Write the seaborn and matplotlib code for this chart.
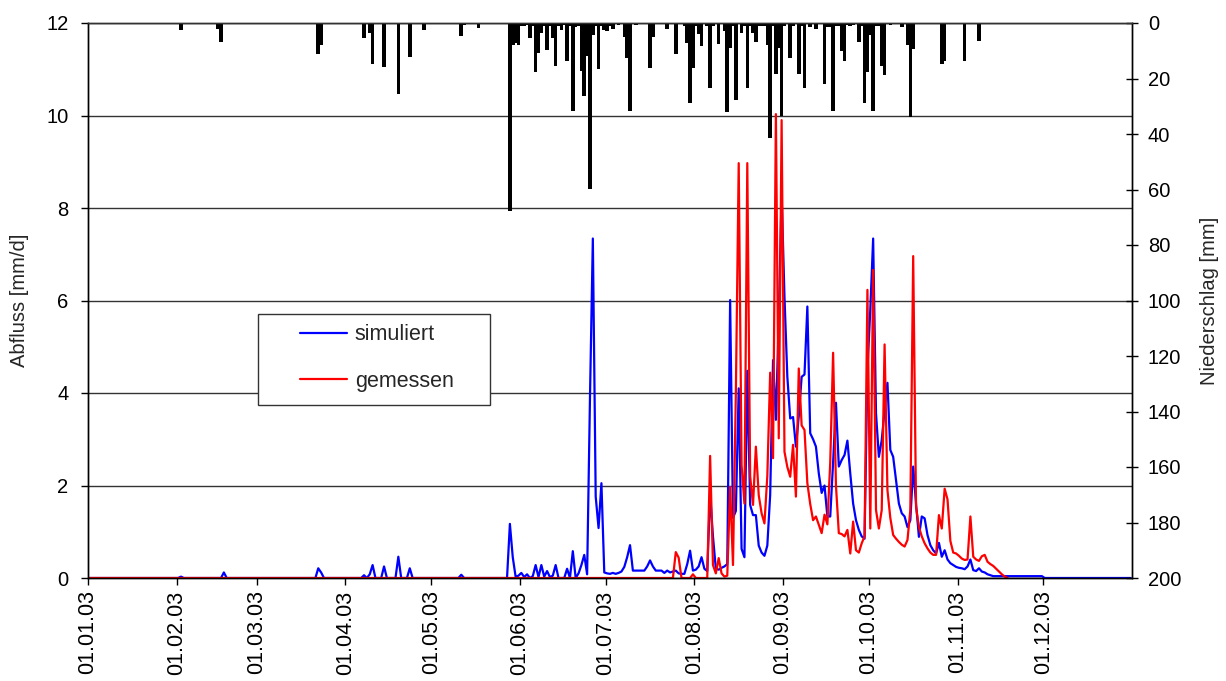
import numpy as np
import pandas as pd
import matplotlib
matplotlib.use("Agg")
import matplotlib.pyplot as plt
from matplotlib.patches import Rectangle
import seaborn as sns

# ---------------- data ----------------
month_labels = ["01.01.03", "01.02.03", "01.03.03", "01.04.03", "01.05.03", "01.06.03",
                "01.07.03", "01.08.03", "01.09.03", "01.10.03", "01.11.03", "01.12.03"]
month_start_day = [0, 31, 59, 90, 120, 151, 181, 212, 243, 273, 304, 334]
n_days = 365

# simulated runoff [mm/d] (day of year index, value); all other days 0
sim_day_early = [32, 47, 80, 81, 96, 98, 99, 103, 108, 112, 130]
sim_val_early = [0.03, 0.12, 0.21, 0.12, 0.06, 0.08, 0.28, 0.25, 0.46, 0.21, 0.07]
sim_first_day = 147
sim_val_main = [
    1.17, 0.45, 0.03, 0.05, 0.11, 0.02, 0.08, 0.00, 0.04, 0.28, 0.02, 0.28, 0.03, 0.15, 0.02, 0.05,
    0.28, 0.00, 0.00, 0.00, 0.20, 0.00, 0.58, 0.00, 0.10, 0.28, 0.50, 0.08, 3.90, 7.34, 1.76, 1.08,
    2.05, 0.12,
    0.10, 0.09, 0.11, 0.09, 0.11, 0.14, 0.24, 0.45, 0.71, 0.16, 0.16, 0.16, 0.16, 0.16, 0.25, 0.38,
    0.25, 0.16, 0.16, 0.16, 0.11, 0.16, 0.12, 0.14, 0.16, 0.10, 0.09, 0.09, 0.30, 0.59, 0.16, 0.18,
    0.25, 0.45, 0.20, 0.15,
    1.80, 0.90, 0.20, 0.18, 0.22, 0.25, 0.30, 6.01, 1.30, 1.45, 4.10, 0.63, 0.45, 4.48, 1.58, 1.36,
    1.36, 0.70, 0.55, 0.48, 0.70, 1.80, 4.71, 3.42, 5.60, 8.30, 6.08, 4.35, 3.45, 3.48, 2.84, 3.50,
    4.35, 4.40,
    5.87, 3.13, 3.00, 2.84, 2.26, 1.84, 2.00, 1.33, 1.33, 2.50, 3.79, 2.41, 2.55, 2.66, 2.97, 2.26,
    1.61, 1.25, 1.04, 0.90, 0.85, 4.50, 5.80, 7.34, 3.56, 2.62, 2.98, 3.63, 4.22, 2.77, 2.62, 2.12,
    1.61, 1.40, 1.33, 1.10, 1.25, 2.41, 1.60, 0.89,
    1.33, 1.29, 0.93, 0.71, 0.60, 0.53, 0.76, 0.46, 0.60, 0.40, 0.32, 0.28, 0.24, 0.22, 0.21, 0.19,
    0.25, 0.40, 0.17, 0.15, 0.21, 0.14, 0.12, 0.08, 0.06,
    0.04, 0.04, 0.04, 0.04, 0.04, 0.04, 0.04, 0.04, 0.04, 0.04, 0.04, 0.04, 0.04, 0.04, 0.04, 0.04,
    0.04, 0.04,
]

# measured runoff [mm/d]; zero before meas_first_day, no data after meas_last_day
meas_first_day = 204
meas_last_day = 321
meas_val = [
    0.00, 0.56, 0.44, 0.00, 0.00, 0.00, 0.00, 0.08, 0.00, 0.00, 0.00, 0.00, 0.00,
    2.64, 0.28, 0.10, 0.43, 0.10, 0.03, 0.05, 1.97, 0.28, 4.00, 8.97, 2.44, 1.61, 8.97, 2.20, 1.58,
    2.84, 1.79, 1.40, 1.18, 2.20, 4.44, 2.59, 10.03, 3.02, 9.90, 2.73, 2.40, 2.19, 2.88, 1.76, 4.53,
    3.30, 3.20, 2.05, 1.60, 1.25, 1.33, 1.15, 0.97, 1.37, 1.16, 2.50, 4.87, 2.00, 0.97, 0.95, 0.90,
    1.04, 0.53, 1.22, 0.60, 0.55, 0.75, 0.90, 6.23, 1.07, 6.66, 1.47, 1.07, 1.47, 5.05, 1.90, 1.30,
    0.93, 0.85, 0.78, 0.72, 0.68, 0.82, 1.47, 6.96, 1.54, 1.10, 0.90, 0.75, 0.64, 0.55, 0.50, 0.50,
    1.36, 1.07, 1.93, 1.70, 0.80, 0.55, 0.53, 0.48, 0.42, 0.39, 0.40, 1.33, 0.46, 0.40, 0.37, 0.47,
    0.50, 0.35, 0.30, 0.26, 0.20, 0.14, 0.08, 0.03, 0.00,
]

# daily precipitation [mm]
rain_day = [32, 45, 46, 80, 81, 96, 98, 99, 103, 108, 112, 117, 130, 131, 136,
            147, 148, 149, 150, 151, 152, 153, 154, 155, 156, 157, 158, 159, 160, 161, 162, 163, 164,
            165, 166, 167, 168, 169, 170, 171, 172, 173, 174, 175, 176, 177, 178, 179, 180,
            181, 182, 183, 185, 187, 188, 189, 191, 196, 197, 202, 205, 208, 209, 210, 211, 212, 213,
            214, 216, 217, 218, 220, 222, 223, 224, 225, 226, 228, 229, 230, 231, 232, 233, 234, 235,
            236, 237, 238, 239, 240, 241, 242, 243, 245, 246, 248, 249, 250, 252, 254, 257, 258, 259,
            260, 261, 262, 263, 264, 265, 266, 267, 269, 270, 271, 272, 273, 274, 275, 276, 277, 278,
            280, 284, 286, 287, 288, 298, 299, 306, 311]
rain_mm = [2.5, 2.0, 6.7, 11.0, 8.0, 5.5, 3.7, 14.8, 15.7, 25.7, 12.1, 2.5, 4.6, 0.7, 1.9,
           67.6, 7.8, 7.2, 8.1, 1.0, 1.2, 0.8, 5.4, 1.0, 17.8, 10.8, 3.6, 1.0, 9.8, 1.0, 5.4, 15.6, 1.0,
           2.6, 0.8, 13.6, 1.0, 31.6, 1.5, 1.0, 17.2, 26.4, 12.0, 59.7, 4.5, 1.0, 16.5, 1.0, 2.7,
           3.0, 1.0, 2.0, 0.8, 4.9, 12.7, 31.6, 0.8, 16.2, 5.0, 2.0, 11.2, 1.0, 7.2, 28.8, 16.2, 1.0, 4.0,
           8.4, 1.0, 23.4, 1.0, 7.6, 3.0, 32.2, 9.0, 1.0, 27.6, 3.6, 1.0, 23.4, 1.0, 3.6, 6.8, 1.0, 1.0,
           1.0, 7.8, 41.5, 1.0, 18.4, 9.0, 33.6, 1.0, 12.6, 1.0, 18.4, 1.0, 23.4, 1.5, 2.0, 22.0, 1.5, 1.5,
           31.6, 1.0, 1.0, 10.0, 13.8, 0.8, 1.0, 0.8, 6.8, 1.0, 28.8, 17.7, 4.2, 31.6, 1.0, 1.0, 15.6, 18.6,
           0.8, 1.5, 7.8, 34.0, 9.3, 14.8, 13.6, 13.6, 6.4]

# ---------------- assemble daily series ----------------
days = np.arange(n_days)
sim = np.zeros(n_days)
sim[sim_day_early] = sim_val_early
sim[sim_first_day:sim_first_day + len(sim_val_main)] = sim_val_main
meas = np.zeros(n_days)
meas[meas_first_day:meas_first_day + len(meas_val)] = meas_val
meas[meas_last_day + 1:] = np.nan
rain = np.zeros(n_days)
rain[rain_day] = rain_mm

df = pd.DataFrame({"pos": days + 0.5, "simuliert": sim, "gemessen": meas})
long_df = df.melt(id_vars="pos", var_name="Reihe", value_name="Abfluss").dropna()

# ---------------- style ----------------
sns.set_theme(style="ticks")
plt.rcParams["font.family"] = ["Liberation Sans", "DejaVu Sans"]
plt.rcParams["font.size"] = 14.5

W, H = 1226, 681
fig = plt.figure(figsize=(W / 100, H / 100), dpi=100)
ax = fig.add_axes([88 / W, 1 - 578 / H, 1044 / W, 555 / H])
ax2 = ax.twinx()

# precipitation bars (hanging from top, inverted right axis)
ax2.bar(days + 0.5, rain, width=1.25, color="black", linewidth=0)
ax2.set_ylim(200, 0)
ax2.set_yticks(np.arange(0, 201, 20))
ax2.set_ylabel("Niederschlag [mm]", fontsize=14.5)
ax2.yaxis.set_label_coords((1200 - 88) / 1044, 0.5)

# runoff lines
sns.lineplot(data=long_df, x="pos", y="Abfluss", hue="Reihe",
             palette={"simuliert": "#0000ff", "gemessen": "#ff0000"},
             estimator=None, sort=False, linewidth=1.6, ax=ax)

ax.set_xlim(0, n_days)
ax.set_ylim(0, 12)
ax.set_yticks(np.arange(0, 13, 2))
ax.set_xticks(month_start_day)
ax.set_xticklabels(month_labels, rotation=90, fontsize=15.5)
ax.set_xlabel("")
ax.set_ylabel("Abfluss [mm/d]", fontsize=14.5)
ax.yaxis.set_label_coords((29 - 88) / 1044, 0.5)
ax.yaxis.grid(True, color="#333333", linewidth=1.0)
ax.xaxis.grid(False)

for a in (ax, ax2):
    for s in a.spines.values():
        s.set_color("black")
        s.set_linewidth(1.0)
ax.spines["top"].set_color("#333333")
ax2.spines["top"].set_color("#333333")

ax.tick_params(axis="y", direction="out", length=5, width=1, pad=9, labelsize=14.5, colors="black")
ax.tick_params(axis="x", direction="out", length=5, width=1, pad=4, colors="black")
ax2.tick_params(axis="y", direction="inout", length=9, width=1, pad=7, labelsize=14.5, colors="black")

# legend: frame drawn as box in axes coordinates, entries placed inside
box = Rectangle(((258 - 88) / 1044, (578 - 405) / 555), 232 / 1044, 91 / 555,
                transform=ax.transAxes, facecolor="white", edgecolor="#333333",
                linewidth=1.0, zorder=5)
ax.add_patch(box)
handles, labels = ax.get_legend_handles_labels()
leg = ax.legend(handles, labels, loc="center left",
                bbox_to_anchor=((300 - 88) / 1044, (578 - 358) / 555),
                frameon=False, fontsize=15.5, handlelength=2.2, handletextpad=0.35,
                labelspacing=1.2, borderpad=0, borderaxespad=0, title=None)
leg.set_zorder(6)
for ln in leg.get_lines():
    ln.set_linewidth(1.6)

fig.savefig("out.png", dpi=100, facecolor="white")
